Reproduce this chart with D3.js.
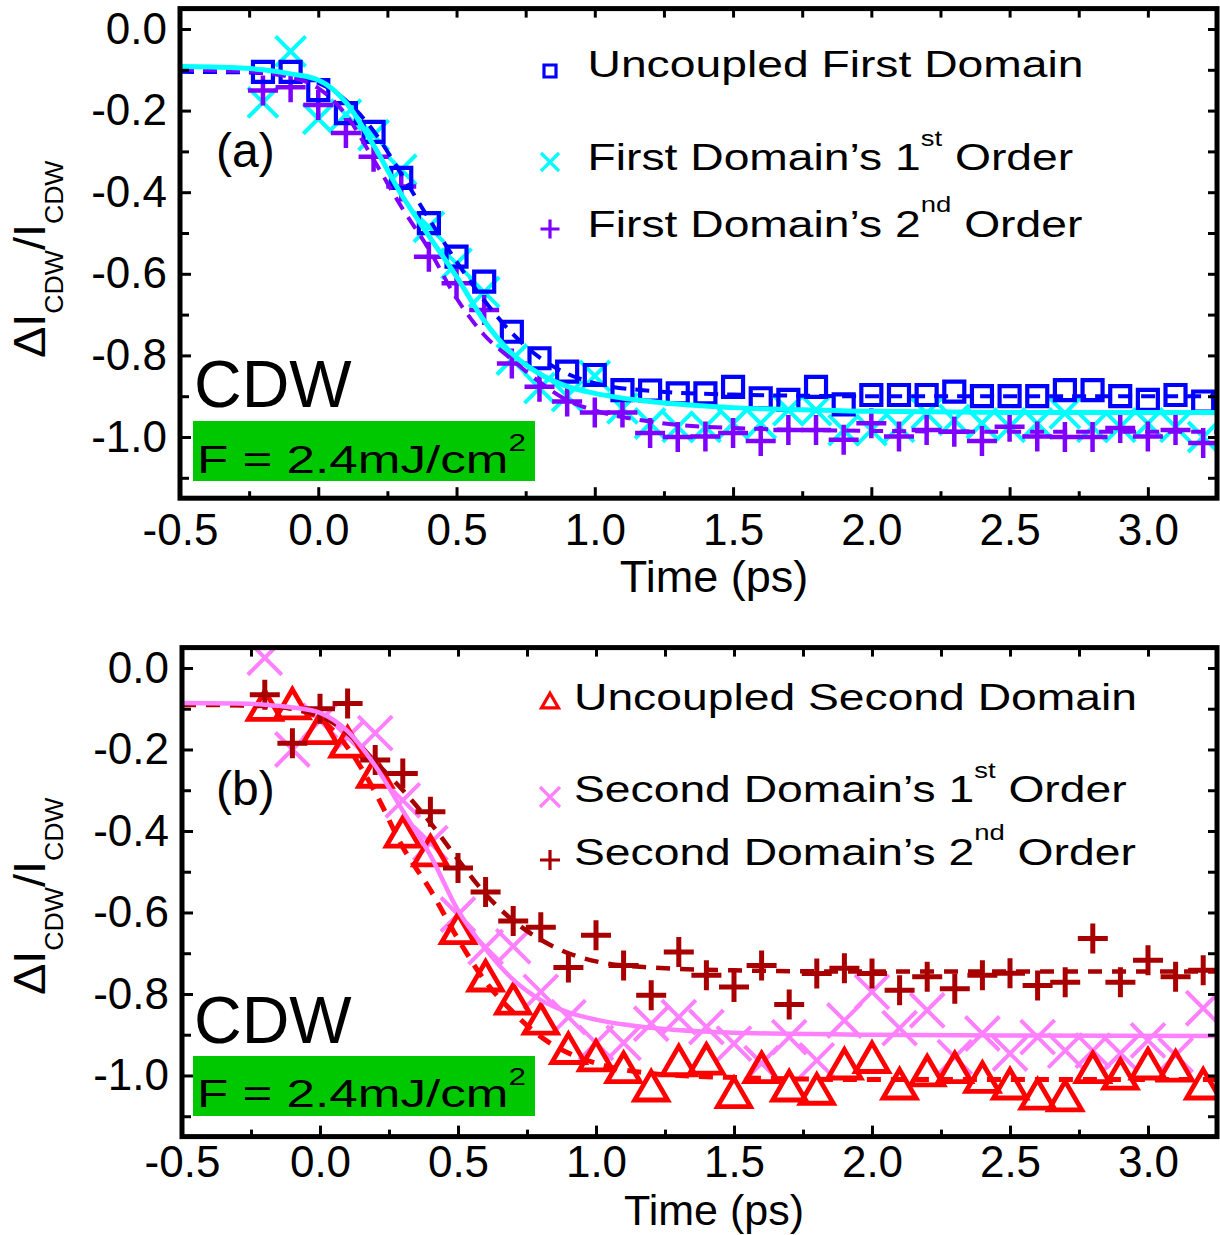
<!DOCTYPE html>
<html><head><meta charset="utf-8">
<script src="https://cdn.jsdelivr.net/npm/d3@7"></script>
<style>
body{margin:0;background:#fff}
svg{display:block}
text{font-family:"Liberation Sans",Arial,Helvetica,sans-serif;fill:#000;white-space:pre}
</style>
</head><body>
<svg id="chart" width="1220" height="1235"></svg>
<script>
// ---------- DATA ----------
const time = [-0.2,-0.1,0.0,0.1,0.2,0.3,0.4,0.5,0.6,0.7,0.8,0.9,1.0,1.1,1.2,1.3,1.4,1.5,1.6,1.7,1.8,1.9,2.0,2.1,2.2,2.3,2.4,2.5,2.6,2.7,2.8,2.9,3.0,3.1,3.2];

// Panel (a)
const uncoupledFirst = [-0.105,-0.105,-0.15,-0.206,-0.252,-0.365,-0.476,-0.558,-0.619,-0.742,-0.807,-0.84,-0.848,-0.885,-0.886,-0.893,-0.893,-0.877,-0.905,-0.909,-0.877,-0.92,-0.897,-0.897,-0.897,-0.889,-0.9,-0.9,-0.9,-0.885,-0.885,-0.9,-0.909,-0.897,-0.913];
const firstOrder1 = [-0.18,-0.055,-0.22,-0.21,-0.26,-0.345,-0.485,-0.575,-0.645,-0.81,-0.88,-0.9,-0.85,-0.93,-0.967,-0.975,-0.975,-0.967,-0.967,-0.934,-0.934,-0.983,-0.983,-0.975,-0.942,-0.958,-0.967,-0.975,-0.967,-0.942,-0.975,-0.975,-0.967,-0.975,-1.0];
const firstOrder2 = [-0.151,-0.143,-0.186,-0.255,-0.313,-0.386,-0.558,-0.623,-0.689,-0.82,-0.877,-0.913,-0.94,-0.94,-0.99,-1.0,-0.999,-0.99,-1.01,-0.983,-0.983,-1.007,-0.966,-0.999,-0.983,-0.987,-1.01,-0.975,-0.999,-1.0,-1.0,-0.978,-0.999,-0.983,-1.015];

// Panel (b)
const uncoupledSecond = [-0.103,-0.099,-0.16,-0.193,-0.267,-0.414,-0.46,-0.651,-0.767,-0.824,-0.873,-0.945,-0.963,-0.992,-1.037,-0.975,-0.971,-1.053,-0.992,-1.037,-1.045,-0.983,-0.967,-1.032,-1.0,-0.992,-1.016,-1.032,-1.057,-1.061,-0.992,-1.008,-0.983,-0.988,-1.032];
const secondOrder1 = [0.025,-0.2,-0.13,-0.17,-0.16,-0.325,-0.43,-0.605,-0.685,-0.683,-0.795,-0.857,-0.92,-0.92,-0.873,-0.857,-0.881,-0.922,-0.97,-0.906,-0.963,-0.865,-0.795,-0.884,-0.84,-0.955,-0.897,-0.946,-0.906,-0.939,-0.939,-0.946,-0.914,-0.95,-0.835];
const secondOrder2 = [-0.066,-0.185,-0.1,-0.087,-0.226,-0.259,-0.353,-0.491,-0.55,-0.621,-0.636,-0.735,-0.656,-0.73,-0.803,-0.697,-0.754,-0.783,-0.73,-0.826,-0.75,-0.737,-0.75,-0.791,-0.758,-0.787,-0.754,-0.749,-0.779,-0.771,-0.664,-0.771,-0.717,-0.758,-0.742];

// Fit curves
const fitTime = [-0.5,-0.3,-0.2,-0.1,0.0,0.1,0.2,0.3,0.4,0.5,0.6,0.7,0.8,0.9,1.0,1.2,1.5,2.0,2.5,3.25];
const fitUncoupledFirst = [-0.105,-0.106,-0.108,-0.116,-0.132,-0.175,-0.25,-0.355,-0.465,-0.57,-0.665,-0.745,-0.805,-0.845,-0.868,-0.887,-0.896,-0.9,-0.9,-0.9];
const fitFirstOrder1 = [-0.092,-0.095,-0.1,-0.11,-0.125,-0.18,-0.285,-0.405,-0.507,-0.607,-0.715,-0.795,-0.845,-0.876,-0.893,-0.913,-0.928,-0.937,-0.94,-0.94];
const fitFirstOrder2 = [-0.1,-0.103,-0.107,-0.118,-0.145,-0.21,-0.32,-0.435,-0.54,-0.66,-0.75,-0.81,-0.865,-0.91,-0.935,-0.962,-0.978,-0.985,-0.987,-0.987];
const fitUncoupledSecond = [-0.09,-0.091,-0.093,-0.1,-0.125,-0.195,-0.305,-0.44,-0.545,-0.665,-0.77,-0.845,-0.905,-0.945,-0.97,-0.995,-1.005,-1.01,-1.01,-1.01];
const fitSecondOrder1 = [-0.086,-0.087,-0.09,-0.097,-0.11,-0.155,-0.24,-0.35,-0.46,-0.595,-0.69,-0.765,-0.815,-0.845,-0.863,-0.883,-0.895,-0.9,-0.902,-0.903];
const fitSecondOrder2 = [-0.09,-0.091,-0.093,-0.1,-0.118,-0.16,-0.23,-0.3,-0.38,-0.47,-0.555,-0.62,-0.667,-0.7,-0.72,-0.735,-0.742,-0.745,-0.745,-0.745];

// Axis ticks
const xMajorTicks = [-0.5,0.0,0.5,1.0,1.5,2.0,2.5,3.0];
const xMinorTicks = [-0.25,0.25,0.75,1.25,1.75,2.25,2.75];
const yMajorTicks = [0.0,-0.2,-0.4,-0.6,-0.8,-1.0];
const yMinorTicks = [-0.1,-0.3,-0.5,-0.7,-0.9,-1.1];
const xDomain = [-0.5, 3.25];
const yDomain = [-1.15, 0.05];

// ---------- DRAWING ----------
const svg = d3.select("#chart");
const FONT = '"Liberation Sans",Arial,Helvetica,sans-serif';

const markerPaths = {
  square: s => `M${-s/2},${-s/2}h${s}v${s}h${-s}Z`,
  cross: h => `M${-h},${-h}L${h},${h}M${-h},${h}L${h},${-h}`,
  plus: h => `M${-h},0H${h}M0,${-h}V${h}`,
  triangle: (w) => { const h = w*0.86; return `M0,${-2*h/3}L${w/2},${h/3}L${-w/2},${h/3}Z`; }
};

function stretchedText(parent, x, y, parts, fontSize, sx) {
  const g = parent.append("g").attr("transform", `translate(${x},${y}) scale(${sx},1)`);
  const t = g.append("text").attr("font-size", fontSize).attr("x", 0).attr("y", 0);
  parts.forEach(p => {
    const ts = t.append("tspan").text(p.text);
    if (p.size) ts.attr("font-size", p.size);
    if (p.dy) ts.attr("dy", p.dy);
  });
  return t;
}

const panels = [
  {
    left: 180, right: 1217, top: 8.6, bottom: 498.2, tickPad: 16,
    tag: "(a)", tagY: 167, cdwY: 407, boxY: 421, fY: 472.5, titleY: 592, titleSize: 45, yLabelC: 259,
    markers: [
      {values: firstOrder1, type: "cross", size: 15, color: "#00ffff", sw: 4},
      {values: firstOrder2, type: "plus", size: 15, color: "#8000ff", sw: 4.5},
      {values: uncoupledFirst, type: "square", size: 20, color: "#0000ff", sw: 4.2}
    ],
    fits: [
      {values: fitUncoupledFirst, color: "#0000ff", sw: 4, dash: "14,9"},
      {values: fitFirstOrder2, color: "#8000ff", sw: 4, dash: "14,9"},
      {values: fitFirstOrder1, color: "#00ffff", sw: 5, dash: null}
    ],
    legend: {
      markerX: 550, textX: 587.5,
      items: [
        {type: "square", size: 12, color: "#0000ff", my: 71, ty: 77,
         parts: [{text: "Uncoupled First Domain"}]},
        {type: "cross", size: 9, color: "#00ffff", my: 162, ty: 169.5,
         parts: [{text: "First Domain\u2019s 1"}, {text: "st", size: 22, dy: -24}, {text: " Order", dy: 24}]},
        {type: "plus", size: 9.5, color: "#8000ff", my: 229, ty: 237,
         parts: [{text: "First Domain\u2019s 2"}, {text: "nd", size: 22, dy: -25}, {text: " Order", dy: 25}]}
      ]
    }
  },
  {
    left: 182, right: 1217, top: 647.6, bottom: 1136.6, tickPad: 9,
    tag: "(b)", tagY: 805, cdwY: 1043, boxY: 1056, fY: 1107, titleY: 1225, titleSize: 43, yLabelC: 896,
    markers: [
      {values: secondOrder1, type: "cross", size: 17, color: "#ff80ff", sw: 4},
      {values: uncoupledSecond, type: "triangle", size: 33, color: "#ff0000", sw: 4.8},
      {values: secondOrder2, type: "plus", size: 15, color: "#a80000", sw: 5}
    ],
    fits: [
      {values: fitUncoupledSecond, color: "#ff0000", sw: 5, dash: "14,10"},
      {values: fitSecondOrder2, color: "#a80000", sw: 4.5, dash: "14,10"},
      {values: fitSecondOrder1, color: "#ff80ff", sw: 4.5, dash: null}
    ],
    legend: {
      markerX: 550, textX: 574,
      items: [
        {type: "triangle", size: 17, color: "#ff0000", my: 703, ty: 709.5,
         parts: [{text: "Uncoupled Second Domain"}]},
        {type: "cross", size: 10, color: "#ff80ff", my: 797, ty: 802,
         parts: [{text: "Second Domain\u2019s 1"}, {text: "st", size: 22, dy: -24}, {text: " Order", dy: 24}]},
        {type: "plus", size: 10, color: "#a80000", my: 860, ty: 865,
         parts: [{text: "Second Domain\u2019s 2"}, {text: "nd", size: 22, dy: -25}, {text: " Order", dy: 25}]}
      ]
    }
  }
];

panels.forEach((p, i) => {
  const x = d3.scaleLinear().domain(xDomain).range([p.left, p.right]);
  const y = d3.scaleLinear().domain(yDomain).range([p.bottom, p.top]);
  const g = svg.append("g");

  const clipId = "clip" + i;
  svg.append("clipPath").attr("id", clipId).append("rect")
    .attr("x", p.left).attr("y", p.top).attr("width", p.right - p.left).attr("height", p.bottom - p.top);

  const plot = g.append("g").attr("clip-path", `url(#${clipId})`);

  // markers
  p.markers.forEach(m => {
    plot.append("g").selectAll("path").data(time.map((t, k) => [t, m.values[k]]))
      .join("path")
      .attr("transform", d => `translate(${x(d[0])},${y(d[1])})`)
      .attr("d", markerPaths[m.type](m.size))
      .attr("fill", "none").attr("stroke", m.color).attr("stroke-width", m.sw)
      .attr("stroke-linejoin", "miter");
  });

  // fit lines
  const line = d3.line().x(d => x(d[0])).y(d => y(d[1])).curve(d3.curveMonotoneX);
  p.fits.forEach(f => {
    plot.append("path").datum(fitTime.map((t, k) => [t, f.values[k]]))
      .attr("d", line).attr("fill", "none").attr("stroke", f.color)
      .attr("stroke-width", f.sw).attr("stroke-dasharray", f.dash);
  });

  // axes
  const styleAxis = sel => {
    sel.select(".domain").remove();
    sel.selectAll(".tick line").attr("stroke", "#000").attr("stroke-width", 3);
    sel.selectAll(".tick text").attr("font-size", 44).attr("font-family", FONT).attr("fill", "#000");
  };
  const fmt = d => d.toFixed(1);
  g.append("g").attr("transform", `translate(0,${p.bottom})`)
    .call(d3.axisBottom(x).tickValues(xMajorTicks).tickSize(-11).tickPadding(p.tickPad).tickFormat(fmt)).call(styleAxis);
  g.append("g").attr("transform", `translate(0,${p.bottom})`)
    .call(d3.axisBottom(x).tickValues(xMinorTicks).tickSize(-7).tickFormat("")).call(styleAxis);
  g.append("g").attr("transform", `translate(0,${p.top})`)
    .call(d3.axisTop(x).tickValues(xMajorTicks.concat(xMinorTicks)).tickSize(-9).tickFormat("")).call(styleAxis);
  g.append("g").attr("transform", `translate(${p.left},0)`)
    .call(d3.axisLeft(y).tickValues(yMajorTicks).tickSize(-11).tickPadding(13).tickFormat(fmt)).call(styleAxis);
  g.append("g").attr("transform", `translate(${p.left},0)`)
    .call(d3.axisLeft(y).tickValues(yMinorTicks).tickSize(-9).tickFormat("")).call(styleAxis);
  g.append("g").attr("transform", `translate(${p.right},0)`)
    .call(d3.axisRight(y).tickValues(yMajorTicks.concat(yMinorTicks)).tickSize(-9).tickFormat("")).call(styleAxis);

  // frame
  g.append("rect").attr("x", p.left).attr("y", p.top)
    .attr("width", p.right - p.left).attr("height", p.bottom - p.top)
    .attr("fill", "none").attr("stroke", "#000").attr("stroke-width", 5);

  // x title
  g.append("text").attr("x", 714).attr("y", p.titleY)
    .attr("text-anchor", "middle").attr("font-size", p.titleSize).text("Time (ps)");

  // y title
  const yl = g.append("g");
  const ylt = yl.append("text").attr("font-size", 44);
  ylt.append("tspan").text("\u0394I");
  ylt.append("tspan").attr("font-size", 25).attr("dy", 18).text("CDW");
  ylt.append("tspan").attr("dy", -18).text("/I");
  ylt.append("tspan").attr("font-size", 25).attr("dy", 18).text("CDW");
  const w = ylt.node().getBBox().width;
  const ysx = 198 / w;
  yl.attr("transform", `translate(45,${p.yLabelC}) rotate(-90) scale(${ysx},1) translate(${-w/2},0)`);

  // panel tag, CDW, fluence box
  g.append("text").attr("x", 216).attr("y", p.tagY).attr("font-size", 48).text(p.tag);
  g.append("text").attr("x", 194).attr("y", p.cdwY).attr("font-size", 66).text("CDW");
  g.append("rect").attr("x", 193).attr("y", p.boxY).attr("width", 342).attr("height", 60).attr("fill", "#00c800");
  const ft = stretchedText(g, 197, p.fY, [{text: "F = 2.4mJ/cm"}, {text: "2", size: 24, dy: -22}], 39, 1);
  const fw = ft.node().getBBox().width;
  d3.select(ft.node().parentNode).attr("transform", `translate(197,${p.fY}) scale(${329 / fw},1)`);

  // legend
  p.legend.items.forEach(it => {
    g.append("path").attr("transform", `translate(${p.legend.markerX},${it.my})`)
      .attr("d", markerPaths[it.type](it.size)).attr("fill", "none")
      .attr("stroke", it.color).attr("stroke-width", 3.2);
    stretchedText(g, p.legend.textX, it.ty, it.parts, 37, 1.25);
  });
});
</script>
</body></html>
